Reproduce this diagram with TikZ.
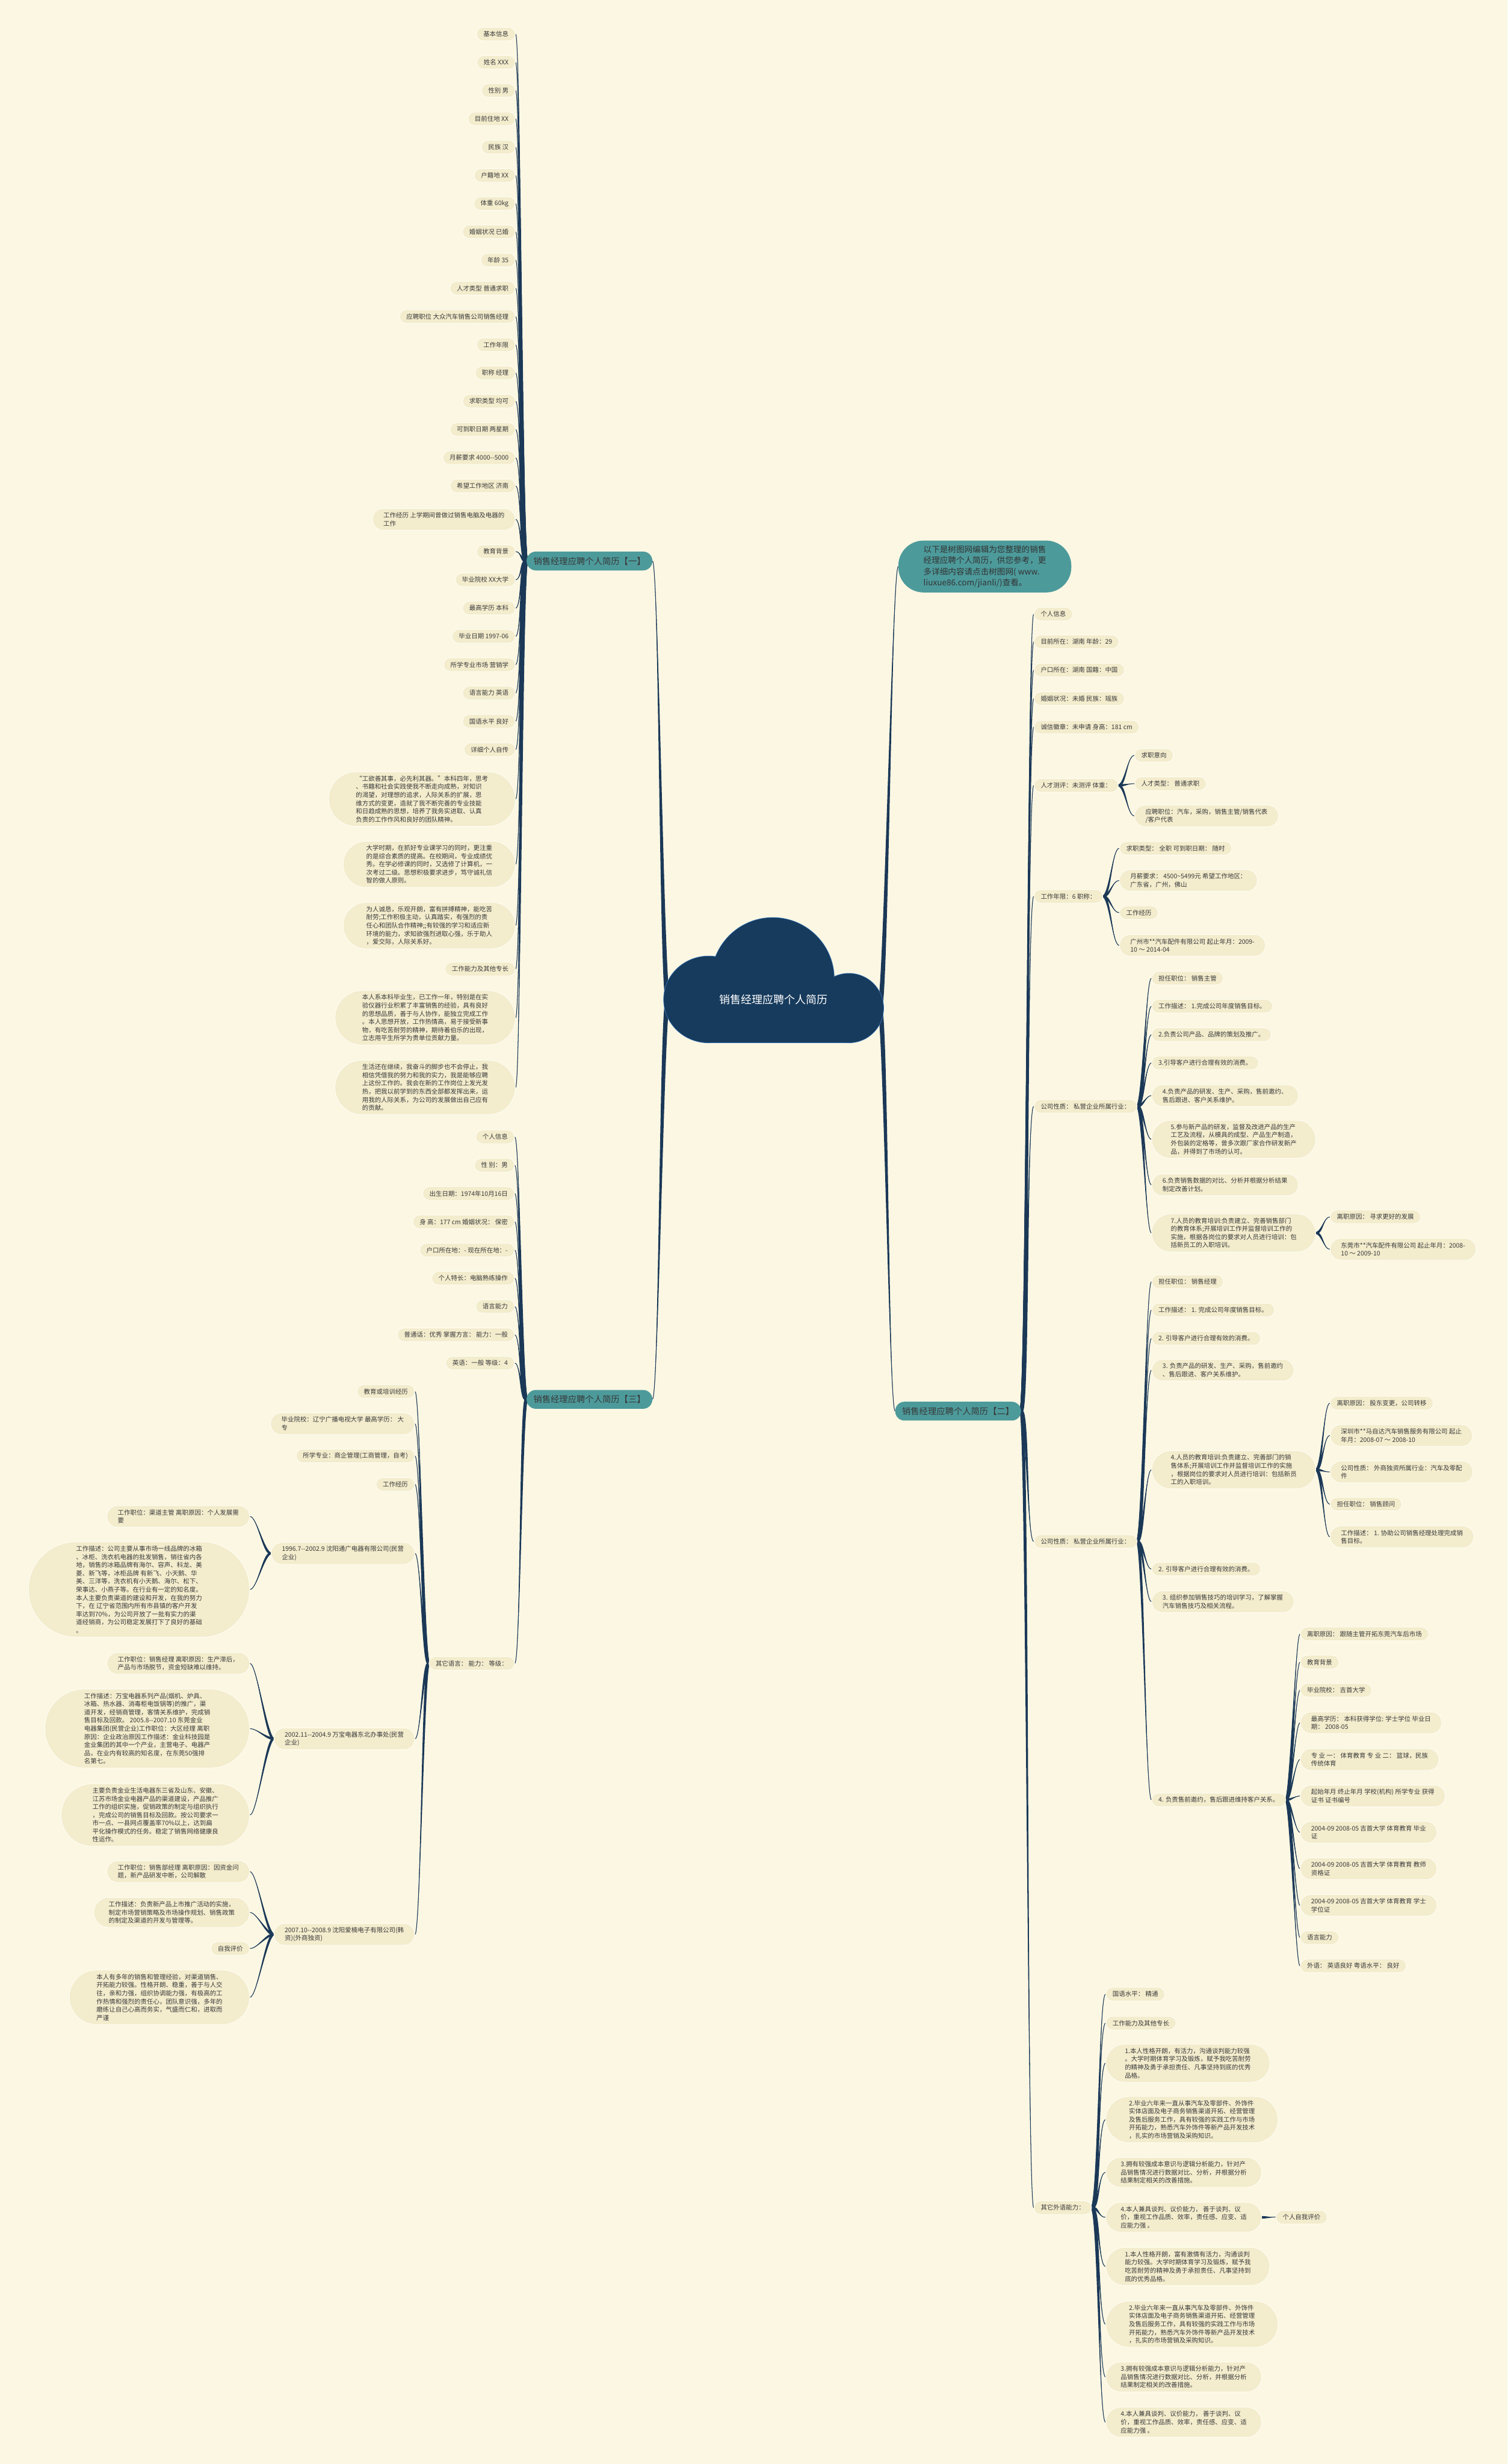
\documentclass[tikz,border=0pt]{standalone}
\usepackage{fontspec}
\newfontfamily\cjk{Noto Sans CJK SC}
\usetikzlibrary{calc}
\definecolor{cfond}{HTML}{FBF7E3}
\definecolor{cfeuille}{HTML}{F3ECCD}
\definecolor{cbord}{HTML}{FFFDF3}
\definecolor{cencre}{HTML}{3A3A3A}
\definecolor{cmarine}{HTML}{1B3857}
\definecolor{csarcelle}{HTML}{4D9A9B}
\definecolor{cnuage}{HTML}{173B5D}
\definecolor{cfilet}{HTML}{3C7CC0}
\newcommand\pfeuille{\cjk\fontsize{11.4pt}{14.8pt}\selectfont}
% lien effile : demi-largeur, parent, enfant, poignee
\newcommand\lien[4]{%
  \fill[cmarine] ($(#2)!#1!90:(#3)$) .. controls +(#4,0) and +({-(#4)},0) .. (#3)
    .. controls +({-(#4)},0) and +(#4,0) .. ($(#2)!#1!-90:(#3)$) -- cycle;
  \draw[cmarine, line width=0.4mm] (#2) .. controls +(#4,0) and +({-(#4)},0) .. (#3);}
\pgfdeclarelayer{fond}
\pgfdeclarelayer{liens}
\pgfsetlayers{fond,liens,main}

\begin{document}
\begin{tikzpicture}[x=1mm, y=-1mm,
  feuille/.style={fill=cfeuille, draw=cbord, line width=0.35mm, text=cencre,
    font=\pfeuille, align=left, inner ysep=1.2mm},
  lignes/.style={feuille, minimum height={8.6mm+5.2mm*(#1-1)},
    inner xsep={4.3mm+2.6mm*(#1-1)}, rounded corners={4.2mm+2.6mm*(#1-1)}},
  lignes/.default=1,
  fg/.style={lignes=#1, anchor=east}, fg/.default=1,
  fd/.style={lignes=#1, anchor=west}, fd/.default=1,
  branche/.style={fill=csarcelle, text=black!78, font=\cjk\fontsize{15.6pt}{18pt}\selectfont,
    minimum width=80mm, minimum height=12mm, rounded corners=5.9mm, inner sep=0pt},
  chapeau/.style={fill=csarcelle, text=black!80, font=\cjk\fontsize{14.8pt}{20pt}\selectfont,
    align=left, minimum height=33mm, inner xsep=16mm, inner ysep=1mm, rounded corners=16mm}]
  \useasboundingbox (0,0) rectangle (959,1568);
  \begin{pgfonlayer}{fond}
    \fill[cfond] (0,0) rectangle (959,1568);
  \end{pgfonlayer}

  % --- nuage central ----------------------------------------------------
  \draw[cfilet, line width=0.6mm] (450.8,636) ellipse [x radius=28.5mm, y radius=27.5mm];
  \draw[cfilet, line width=0.6mm] (491.6,623) circle [radius=39mm];
  \draw[cfilet, line width=0.6mm] (540,641.5) circle [radius=22mm];
  \draw[cfilet, line width=0.6mm] (450.8,636) rectangle (540,663.5);
  \fill[cnuage] (450.8,636) ellipse [x radius=28.5mm, y radius=27.5mm];
  \fill[cnuage] (491.6,623) circle [radius=39mm];
  \fill[cnuage] (540,641.5) circle [radius=22mm];
  \fill[cnuage] (450.8,636) rectangle (540,663.5);
  \node[text=white, font=\cjk\fontsize{19.6pt}{22pt}\selectfont] (racine) at (492,636)
       {销售经理应聘个人简历};
  \coordinate (nuageo) at (425,636);
  \coordinate (nuagee) at (559.5,641.5);

  % --- branches -----------------------------------------------------------
  \node[branche] (bun) at (375,357) {销售经理应聘个人简历【一】};
  \node[branche] (btrois) at (375,890.5) {销售经理应聘个人简历【三】};
  \node[branche] (bdeux) at (609.5,898) {销售经理应聘个人简历【二】};
  \node[chapeau] (intro) at (626.5,360.5) {以下是树图网编辑为您整理的销售\\经理应聘个人简历，供您参考，更\\多详细内容请点击树图网( www.\\liuxue86.com/jianli/)查看。};

  % --- branche un ---------------------------------------------------------
  \node[fg] (a1) at (328,21.7) {基本信息};
  \node[fg] (a2) at (328,39.7) {姓名 XXX};
  \node[fg] (a3) at (328,57.6) {性别 男};
  \node[fg] (a4) at (328,75.6) {目前住地 XX};
  \node[fg] (a5) at (328,93.6) {民族 汉};
  \node[fg] (a6) at (328,111.6) {户籍地 XX};
  \node[fg] (a7) at (328,129.5) {体重 60kg};
  \node[fg] (a8) at (328,147.5) {婚姻状况 已婚};
  \node[fg] (a9) at (328,165.5) {年龄 35};
  \node[fg] (a10) at (328,183.4) {人才类型 普通求职};
  \node[fg] (a11) at (328,201.4) {应聘职位 大众汽车销售公司销售经理};
  \node[fg] (a12) at (328,219.4) {工作年限};
  \node[fg] (a13) at (328,237.3) {职称 经理};
  \node[fg] (a14) at (328,255.3) {求职类型 均可};
  \node[fg] (a15) at (328,273.3) {可到职日期 两星期};
  \node[fg] (a16) at (328,291.3) {月薪要求 4000--5000};
  \node[fg] (a17) at (328,309.2) {希望工作地区 济南};
  \node[fg=2] (a18) at (328,330.5) {工作经历 上学期间曾做过销售电脑及电器的\\工作};
  \node[fg] (a19) at (328,351) {教育背景};
  \node[fg] (a20) at (328,369) {毕业院校 XX大学};
  \node[fg] (a21) at (328,387) {最高学历 本科};
  \node[fg] (a22) at (328,405) {毕业日期 1997-06};
  \node[fg] (a23) at (328,423) {所学专业市场 营销学};
  \node[fg] (a24) at (328,441) {语言能力 英语};
  \node[fg] (a25) at (328,459) {国语水平 良好};
  \node[fg] (a26) at (328,477) {详细个人自传};
  \node[fg=6] (a27) at (328,508.5) {“工欲善其事，必先利其器。”本科四年，思考\\、书籍和社会实践使我不断走向成熟，对知识\\的渴望，对理想的追求，人际关系的扩展，思\\维方式的变更，造就了我不断完善的专业技能\\和日趋成熟的思想，培养了我务实进取、认真\\负责的工作作风和良好的团队精神。};
  \node[fg=5] (a28) at (328,550) {大学时期，在抓好专业课学习的同时，更注重\\的是综合素质的提高。在校期间，专业成绩优\\秀。在学必修课的同时，又选修了计算机，一\\次考过二级。思想积极要求进步，笃守诚礼信\\智的做人原则。};
  \node[fg=5] (a29) at (328,589) {为人诚恳，乐观开朗，富有拼搏精神，能吃苦\\耐劳;工作积极主动，认真踏实，有强烈的责\\任心和团队合作精神;;有较强的学习和适应新\\环境的能力，求知欲强烈进取心强，乐于助人\\，爱交际，人际关系好。};
  \node[fg] (a30) at (328,616.7) {工作能力及其他专长};
  \node[fg=6] (a31) at (328,647.7) {本人系本科毕业生，已工作一年，特别是在实\\验仪器行业积累了丰富销售的经验，具有良好\\的思想品质，善于与人协作，能独立完成工作\\。本人思想开放，工作热情高，易于接受新事\\物，有吃苦耐劳的精神，期待着伯乐的出现，\\立志用平生所学为贵单位贡献力量。};
  \node[fg=6] (a32) at (328,692) {生活还在继续，我奋斗的脚步也不会停止，我\\相信凭借我的努力和我的实力，我是能够应聘\\上这份工作的。我会在新的工作岗位上发光发\\热，把我以前学到的东西全部都发挥出来，运\\用我的人际关系，为公司的发展做出自己应有\\的贡献。};

  % --- branche trois ------------------------------------------------------
  \node[fg] (c1) at (327.5,723.5) {个人信息};
  \node[fg] (c2) at (327.5,741.5) {性 别：男};
  \node[fg] (c3) at (327.5,759.5) {出生日期：1974年10月16日};
  \node[fg] (c4) at (327.5,777.5) {身 高：177 cm 婚姻状况： 保密};
  \node[fg] (c5) at (327.5,795.5) {户口所在地：- 现在所在地：-};
  \node[fg] (c6) at (327.5,813.4) {个人特长：电脑熟练操作};
  \node[fg] (c7) at (327.5,831.4) {语言能力};
  \node[fg] (c8) at (327.5,849.4) {普通话：优秀 掌握方言： 能力：一般};
  \node[fg] (c9) at (327.5,867.4) {英语：一般 等级：4};
  \node[fg] (c10) at (327.5,1058.5) {其它语言： 能力： 等级：};
  \node[fg] (t1) at (264,885.5) {教育或培训经历};
  \node[fg=2] (t2) at (264,906) {毕业院校：辽宁广播电视大学 最高学历： 大\\专};
  \node[fg] (t3) at (264,926.5) {所学专业：商企管理(工商管理，自考)};
  \node[fg] (t4) at (264,944.6) {工作经历};
  \node[fg=2] (t5) at (264,988.5) {1996.7--2002.9 沈阳通广电器有限公司(民营\\企业)};
  \node[fg=2] (t6) at (264,1106.5) {2002.11--2004.9 万宝电器东北办事处(民营\\企业)};
  \node[fg=2] (t7) at (264,1231) {2007.10--2008.9 沈阳爱楠电子有限公司(韩\\资)(外商独资)};
  \node[fg=2] (d1) at (159,965) {工作职位：渠道主管 离职原因：个人发展需\\要};
  \node[fg=11] (d2) at (159,1011.5) {工作描述：公司主要从事市场一线品牌的冰箱\\、冰柜、洗衣机电器的批发销售，销往省内各\\地，销售的冰箱品牌有海尔、容声、科龙、美\\菱、新飞等，冰柜品牌 有新飞、小天鹅、华\\美、三洋等，洗衣机有小天鹅、海尔、松下、\\荣事达、小燕子等。在行业有一定的知名度。\\本人主要负责渠道的建设和开发，在我的努力\\下，在 辽宁省范围内所有市县镇的客户开发\\率达到70\%，为公司开放了一批有实力的渠\\道经销商，为公司稳定发展打下了良好的基础\\。};
  \node[fg=2] (d3) at (159,1058.5) {工作职位：销售经理 离职原因：生产滞后，\\产品与市场脱节，资金短缺难以维持。};
  \node[fg=9] (d4) at (159,1100) {工作描述：万宝电器系列产品(烟机、炉具、\\冰箱、热水器、消毒柜电饭锅等)的推广，渠\\道开发，经销商管理，客情关系维护，完成销\\售目标及回款。 2005.8--2007.10 东莞金业\\电器集团(民营企业)工作职位：大区经理 离职\\原因：企业政治原因工作描述：金业科技园是\\金业集团的其中一个产业，主营电子、电器产\\品，在业内有较高的知名度，在东莞50强排\\名第七。};
  \node[fg=7] (d5) at (159,1155) {主要负责金业生活电器东三省及山东、安徽、\\江苏市场金业电器产品的渠道建设，产品推广\\工作的组织实施，促销政策的制定与组织执行\\，完成公司的销售目标及回款。按公司要求一\\市一点、一县网点覆盖率70\%以上，达到扁\\平化操作模式的任务。稳定了销售网络健康良\\性运作。};
  \node[fg=2] (d6) at (159,1191) {工作职位：销售部经理 离职原因：因资金问\\题，新产品研发中断，公司解散};
  \node[fg=3] (d7) at (159,1217) {工作描述：负责新产品上市推广活动的实施，\\制定市场营销策略及市场操作规划、销售政策\\的制定及渠道的开发与管理等。};
  \node[fg] (d8) at (159,1240) {自我评价};
  \node[fg=6] (d9) at (159,1271) {本人有多年的销售和管理经验，对渠道销售、\\开拓能力较强。性格开朗、稳重，善于与人交\\往，亲和力强，组织协调能力强，有极高的工\\作热情和强烈的责任心，团队意识强，多年的\\磨练让自己心高而务实，气盛而仁和，进取而\\严谨};

  % --- branche deux -------------------------------------------------------
  \node[fd] (e1) at (657.6,390.8) {个人信息};
  \node[fd] (e2) at (657.6,408.4) {目前所在：湖南 年龄：29};
  \node[fd] (e3) at (657.6,426.4) {户口所在：湖南 国籍：中国};
  \node[fd] (e4) at (657.6,444.6) {婚姻状况：未婚 民族：瑶族};
  \node[fd] (e5) at (657.6,462.7) {诚信徽章：未申请 身高：181 cm};
  \node[fd] (e6) at (657.6,499.8) {人才测评：未测评 体重：};
  \node[fd] (e7) at (657.6,570.4) {工作年限：6 职称：};
  \node[fd] (e8) at (657.6,704) {公司性质： 私营企业所属行业：};
  \node[fd] (e9) at (657.6,980.9) {公司性质： 私营企业所属行业：};
  \node[fd] (e10) at (657.6,1404.9) {其它外语能力：};
  \node[fd] (f1) at (721.6,480.7) {求职意向};
  \node[fd] (f2) at (721.6,498.7) {人才类型： 普通求职};
  \node[fd=2] (f3) at (721.6,519.2) {应聘职位：汽车，采购，销售主管/销售代表\\/客户代表};
  \node[fd] (g1) at (712,539.8) {求职类型： 全职 可到职日期： 随时};
  \node[fd=2] (g2) at (712,560.3) {月薪要求： 4500\textasciitilde5499元 希望工作地区：\\广东省，广州，佛山};
  \node[fd] (g3) at (712,580.8) {工作经历};
  \node[fd=2] (g4) at (712,601.6) {广州市**汽车配件有限公司 起止年月：2009-\\10 ～ 2014-04};
  \node[fd] (h1) at (732.5,622.5) {担任职位： 销售主管};
  \node[fd] (h2) at (732.5,640.3) {工作描述： 1.完成公司年度销售目标。};
  \node[fd] (h3) at (732.5,658.4) {2.负责公司产品、品牌的策划及推广。};
  \node[fd] (h4) at (732.5,676.4) {3.引导客户进行合理有效的消费。};
  \node[fd=2] (h5) at (732.5,697.2) {4.负责产品的研发、生产、采购，售前邀约、\\售后跟进、客户关系维护。};
  \node[fd=4] (h6) at (732.5,725) {5.参与新产品的研发，监督及改进产品的生产\\工艺及流程，从模具的成型、产品生产制造，\\外包装的定格等，曾多次跟厂家合作研发新产\\品，并得到了市场的认可。};
  \node[fd=2] (h7) at (732.5,754) {6.负责销售数据的对比、分析并根据分析结果\\制定改善计划。};
  \node[fd=4] (h8) at (732.5,784.6) {7.人员的教育培训:负责建立、完善销售部门\\的教育体系;开展培训工作并监督培训工作的\\实施，根据各岗位的要求对人员进行培训：包\\括新员工的入职培训。};
  \node[fd] (i1) at (846,774.4) {离职原因： 寻求更好的发展};
  \node[fd=2] (i2) at (846,795) {东莞市**汽车配件有限公司 起止年月：2008-\\10 ～ 2009-10};
  \node[fd] (j1) at (732.5,815.6) {担任职位： 销售经理};
  \node[fd] (j2) at (732.5,833.6) {工作描述： 1. 完成公司年度销售目标。};
  \node[fd] (j3) at (732.5,851.7) {2. 引导客户进行合理有效的消费。};
  \node[fd=2] (j4) at (732.5,871.9) {3. 负责产品的研发、生产、采购，售前邀约\\、售后跟进、客户关系维护。};
  \node[fd=4] (j5) at (732.5,935.3) {4.人员的教育培训:负责建立、完善部门的销\\售体系;开展培训工作并监督培训工作的实施\\，根据岗位的要求对人员进行培训：包括新员\\工的入职培训。};
  \node[fd] (j6) at (732.5,998.5) {2. 引导客户进行合理有效的消费。};
  \node[fd=2] (j7) at (732.5,1019.2) {3. 组织参加销售技巧的培训学习，了解掌握\\汽车销售技巧及相关流程。};
  \node[fd] (j8) at (732.5,1145.4) {4. 负责售前邀约，售后跟进维持客户关系。};
  \node[fd] (k1) at (846,892.9) {离职原因： 股东变更，公司转移};
  \node[fd=2] (k2) at (846,913.5) {深圳市**马自达汽车销售服务有限公司 起止\\年月：2008-07 ～ 2008-10};
  \node[fd=2] (k3) at (846,936.7) {公司性质： 外商独资所属行业：汽车及零配\\件};
  \node[fd] (k4) at (846,957.2) {担任职位： 销售顾问};
  \node[fd=2] (k5) at (846,978) {工作描述： 1. 协助公司销售经理处理完成销\\售目标。};
  \node[fd] (m1) at (827,1039.8) {离职原因： 跟随主管开拓东莞汽车后市场};
  \node[fd] (m2) at (827,1057.7) {教育背景};
  \node[fd] (m3) at (827,1075.6) {毕业院校： 吉首大学};
  \node[fd=2] (m4) at (827,1096.3) {最高学历： 本科获得学位: 学士学位 毕业日\\期： 2008-05};
  \node[fd=2] (m5) at (827,1119.7) {专 业 一： 体育教育 专 业 二： 篮球，民族\\传统体育};
  \node[fd=2] (m6) at (827,1142.9) {起始年月 终止年月 学校(机构) 所学专业 获得\\证书 证书编号};
  \node[fd=2] (m7) at (827,1166) {2004-09 2008-05 吉首大学 体育教育 毕业\\证};
  \node[fd=2] (m8) at (827,1189.2) {2004-09 2008-05 吉首大学 体育教育 教师\\资格证};
  \node[fd=2] (m9) at (827,1212.5) {2004-09 2008-05 吉首大学 体育教育 学士\\学位证};
  \node[fd] (m10) at (827,1233) {语言能力};
  \node[fd] (m11) at (827,1251) {外语： 英语良好 粤语水平： 良好};
  \node[fd] (n1) at (703.3,1269) {国语水平： 精通};
  \node[fd] (n2) at (703.3,1287.4) {工作能力及其他专长};
  \node[fd=4] (n3) at (703.3,1312.9) {1.本人性格开朗，有活力，沟通谈判能力较强\\。大学时期体育学习及锻炼，赋予我吃苦耐劳\\的精神及勇于承担责任、凡事坚持到底的优秀\\品格。};
  \node[fd=5] (n4) at (703.3,1348.8) {2.毕业六年来一直从事汽车及零部件、外饰件\\实体店面及电子商务销售渠道开拓、经营管理\\及售后服务工作，具有较强的实践工作与市场\\开拓能力，熟悉汽车外饰件等新产品开发技术\\，扎实的市场营销及采购知识。};
  \node[fd=3] (n5) at (703.3,1382.4) {3.拥有较强成本意识与逻辑分析能力，针对产\\品销售情况进行数据对比、分析，并根据分析\\结果制定相关的改善措施。};
  \node[fd=3] (n6) at (703.3,1411) {4.本人兼具谈判、议价能力， 善于谈判、议\\价，重视工作品质、效率，责任感、应变、适\\应能力强 。};
  \node[fd] (o1) at (811.5,1411) {个人自我评价};
  \node[fd=4] (n7) at (703.3,1442.3) {1.本人性格开朗，富有激情有活力，沟通谈判\\能力较强。大学时期体育学习及锻炼，赋予我\\吃苦耐劳的精神及勇于承担责任、凡事坚持到\\底的优秀品格。};
  \node[fd=5] (n8) at (703.3,1479) {2.毕业六年来一直从事汽车及零部件、外饰件\\实体店面及电子商务销售渠道开拓、经营管理\\及售后服务工作，具有较强的实践工作与市场\\开拓能力，熟悉汽车外饰件等新产品开发技术\\，扎实的市场营销及采购知识。};
  \node[fd=3] (n9) at (703.3,1512.6) {3.拥有较强成本意识与逻辑分析能力，针对产\\品销售情况进行数据对比、分析，并根据分析\\结果制定相关的改善措施。};
  \node[fd=3] (n10) at (703.3,1541.4) {4.本人兼具谈判、议价能力， 善于谈判、议\\价，重视工作品质、效率，责任感、应变、适\\应能力强 。};

  % --- liens, sous les noeuds ------------------------------------------
  \begin{pgfonlayer}{liens}
    \lien{1.5mm}{nuageo}{bun.east}{-4}
    \lien{1.5mm}{nuageo}{btrois.east}{-4}
    \lien{1.5mm}{nuagee}{intro.west}{4}
    \lien{1.5mm}{nuagee}{bdeux.west}{4}
    \foreach \i in {1,...,32} {\lien{1.1mm}{bun.west}{a\i.east}{-3.5}}
    \foreach \i in {1,...,10} {\lien{1.1mm}{btrois.west}{c\i.east}{-3.5}}
    \foreach \i in {1,...,7} {\lien{0.9mm}{c10.west}{t\i.east}{-3.5}}
    \foreach \i in {1,2} {\lien{0.8mm}{t5.west}{d\i.east}{-4.5}}
    \foreach \i in {3,4,5} {\lien{0.8mm}{t6.west}{d\i.east}{-4.5}}
    \foreach \i in {6,...,9} {\lien{0.8mm}{t7.west}{d\i.east}{-4.5}}
    \foreach \i in {1,...,10} {\lien{1.1mm}{bdeux.east}{e\i.west}{4.3}}
    \foreach \i in {1,2,3} {\lien{0.8mm}{e6.east}{f\i.west}{4.5}}
    \foreach \i in {1,...,4} {\lien{0.8mm}{e7.east}{g\i.west}{4.5}}
    \foreach \i in {1,...,8} {\lien{0.9mm}{e8.east}{h\i.west}{3.7}}
    \foreach \i in {1,2} {\lien{0.8mm}{h8.east}{i\i.west}{4}}
    \foreach \i in {1,...,8} {\lien{0.9mm}{e9.east}{j\i.west}{3.7}}
    \foreach \i in {1,...,5} {\lien{0.8mm}{j5.east}{k\i.west}{4}}
    \foreach \i in {1,...,11} {\lien{0.8mm}{j8.east}{m\i.west}{3}}
    \foreach \i in {1,...,10} {\lien{0.9mm}{e10.east}{n\i.west}{4.5}}
    \lien{0.8mm}{n6.east}{o1.west}{3}
  \end{pgfonlayer}
\end{tikzpicture}
\end{document}
